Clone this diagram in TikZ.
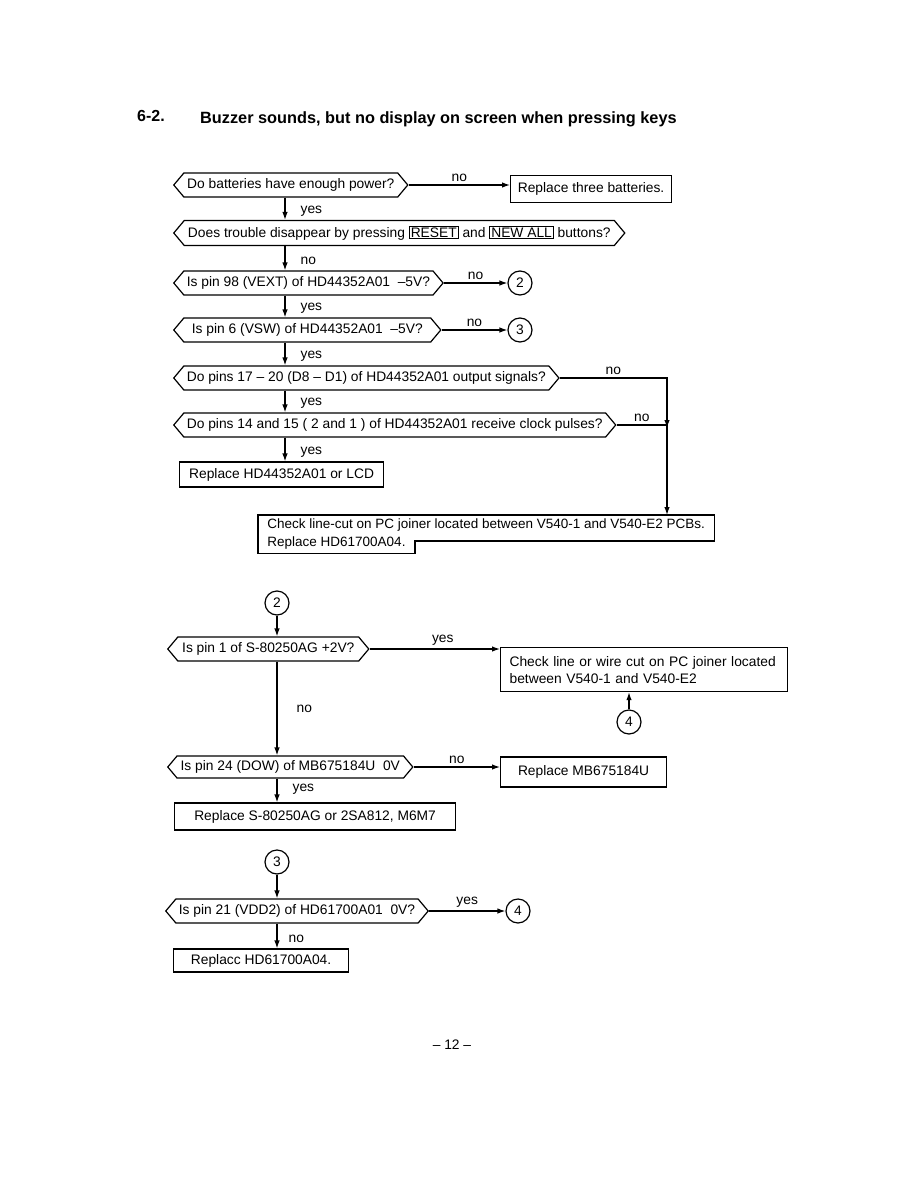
\documentclass[tikz,border=0pt]{standalone}
\usepackage{fontspec}
\setmainfont{Liberation Sans}
\usetikzlibrary{shapes.symbols, arrows.meta, positioning, calc}
\newcommand{\chartfont}{\fontsize{13.8}{17}\selectfont}
\newcommand{\keycap}[1]{{\setlength{\fboxsep}{1pt}\setlength{\fboxrule}{0.9pt}\fbox{#1}}}
\tikzset{
  decision/.style={signal, signal to=west and east, signal pointer angle=100,
                   draw=black, line width=1.2pt, minimum height=24pt,
                   inner xsep=3pt, inner ysep=0pt, anchor=west, font=\chartfont},
  box/.style={rectangle, draw=black, line width=1.2pt, minimum height=26pt,
              inner xsep=6pt, anchor=west, font=\chartfont},
  refcirc/.style={circle, draw=black, line width=1.2pt, minimum size=24pt,
                  inner sep=0pt, font=\chartfont},
  lbl/.style={font=\chartfont, inner sep=1pt},
  arrow/.style={-{Latex[length=8pt, width=5.5pt]}, line width=1.2pt, draw=black},
  plain/.style={line width=1.2pt, draw=black},
}

\begin{document}
\begin{tikzpicture}[x=1pt, y=-1pt]
  \useasboundingbox (0,0) rectangle (918,1188);

  % Heading
  \node[anchor=west, inner sep=0pt, font=\fontsize{16}{19}\selectfont\bfseries] (secno) at (137,116) {6-2.};
  \node[anchor=west, inner sep=0pt, font=\fontsize{16.3}{19}\selectfont\bfseries] (title) at (200,119)
    {Buzzer sounds, but no display on screen when pressing keys};

  % First chart
  \coordinate (spineA) at (285,0);
  \coordinate (rail) at (667,378);
  \node[decision, minimum width=234pt] (batt) at (173,185) {Do batteries have enough power?};
  \node[box, minimum width=161pt, minimum height=27pt] (newbatt) at (510,189) {Replace three batteries.};
  \node[decision, minimum width=451pt, minimum height=25pt] (trouble) at (173,233)
    {Does trouble disappear by pressing \keycap{RESET} and \keycap{NEW ALL} buttons?};
  \node[decision, minimum width=267pt] (vext) at (173,283) {Is pin 98 (VEXT) of HD44352A01\ \ --5V?};
  \node[refcirc] (goA) at (520,283) {2};
  \node[decision, minimum width=267pt] (vsw) at (173,330) {Is pin 6 (VSW) of HD44352A01\ \ --5V?};
  \node[refcirc] (goB) at (520,330) {3};
  \node[decision, minimum width=382pt] (signals) at (173,378)
    {Do pins 17 -- 20 (D8 -- D1) of HD44352A01 output signals?};
  \node[decision, minimum width=435pt] (clock) at (173,425)
    {Do pins 14 and 15 ( 2 and 1 ) of HD44352A01 receive clock pulses?};
  \node[box, minimum width=204pt, minimum height=25pt] (replcd) at (179,474.5) {Replace HD44352A01 or LCD};
  \node[anchor=north west, inner xsep=3pt, inner ysep=2pt, minimum width=456pt, minimum height=38pt,
        align=left, font=\fontsize{13.5}{18}\selectfont] (joiner) at (258,515)
    {Check line-cut on PC joiner located between V540-1 and V540-E2 PCBs.\\
     Replace HD61700A04.};
  \draw[plain] (joiner.north west) -- (joiner.north east) -- ($(joiner.north east)+(0,26)$)
    -| ($(joiner.south west)+(157,0)$) -- (joiner.south west) -- cycle;

  \draw[arrow] (batt.east) -- node[lbl, above=2pt] {no} (batt.east -| newbatt.west);
  \draw[arrow] (batt.south -| spineA) -- node[lbl, right=14pt, pos=.6] {yes} (trouble.north -| spineA);
  \draw[arrow] (trouble.south -| spineA) -- node[lbl, right=14pt, pos=.6] {no} (vext.north -| spineA);
  \draw[arrow] (vext.east) -- node[lbl, above=2pt] {no} (goA.west);
  \draw[arrow] (vext.south -| spineA) -- node[lbl, right=14pt, pos=.6] {yes} (vsw.north -| spineA);
  \draw[arrow] (vsw.east) -- node[lbl, above=2pt] {no} (goB.west);
  \draw[arrow] (vsw.south -| spineA) -- node[lbl, right=14pt, pos=.6] {yes} (signals.north -| spineA);
  \draw[arrow] (signals.east) -- node[lbl, above=2pt] {no} (rail) -- (rail |- joiner.north);
  \draw[arrow] (signals.south -| spineA) -- node[lbl, right=14pt, pos=.6] {yes} (clock.north -| spineA);
  \draw[plain] (clock.east) -- node[lbl, above=2pt] {no} (clock.east -| rail);
  \draw[arrow] ($(clock.east -| rail)+(0,-10)$) -- ($(clock.east -| rail)+(0,3)$);
  \draw[arrow] (clock.south -| spineA) -- node[lbl, right=14pt, pos=.6] {yes} (replcd.north -| spineA);

  % Second chart
  \coordinate (spineB) at (277,0);
  \node[refcirc] (fromA) at (277,603) {2};
  \node[decision, minimum width=201pt] (plus2v) at (167,649) {Is pin 1 of S-80250AG +2V?};
  \node[anchor=north west, draw=black, line width=1.2pt, inner xsep=9pt, inner ysep=3pt,
        minimum width=287pt, minimum height=44pt, text width=269pt, align=left, font=\chartfont]
    (wirecut) at (500,647)
    {Check line or wire cut on PC joiner located\\ between V540-1 and V540-E2};
  \node[refcirc] (fromD) at (629,722) {4};
  \node[decision, minimum width=245pt, minimum height=22pt] (dow) at (167,767) {Is pin 24 (DOW) of MB675184U\ \ 0V};
  \node[box, minimum width=166pt, minimum height=30pt] (repmb) at (500,772) {Replace MB675184U};
  \node[box, minimum width=281pt, minimum height=27pt] (repsa) at (174,816.5) {Replace S-80250AG or 2SA812, M6M7};

  \draw[arrow] (fromA.south) -- (fromA.south |- plus2v.north);
  \draw[arrow] (plus2v.east) -- node[lbl, above=2pt, xshift=8pt] {yes} (plus2v.east -| wirecut.west);
  \draw[arrow] (fromD.north) -- (fromD.north |- wirecut.south);
  \draw[arrow] (plus2v.south -| spineB) -- node[lbl, right=18pt] {no} (dow.north -| spineB);
  \draw[arrow] (dow.east) -- node[lbl, above=2pt] {no} (dow.east -| repmb.west);
  \draw[arrow] (dow.south -| spineB) -- node[lbl, right=14pt, pos=.45] {yes} (repsa.north -| spineB);

  % Third chart
  \node[refcirc] (fromB) at (277,862) {3};
  \node[decision, minimum width=259pt] (vdd) at (165,911) {Is pin 21 (VDD2) of HD61700A01\ \ 0V?};
  \node[refcirc] (toD) at (518,911) {4};
  \node[box, minimum width=175pt, minimum height=23pt] (rephd) at (173,960.5) {Replacc HD61700A04.};

  \draw[arrow] (fromB.south) -- (fromB.south |- vdd.north);
  \draw[arrow] (vdd.east) -- node[lbl, above=2pt] {yes} (toD.west);
  \draw[arrow] (vdd.south -| spineB) -- node[lbl, right=10pt, pos=.6] {no} (rephd.north -| spineB);

  % Page number
  \node[font=\chartfont] (pageno) at (452,1045) {-- 12 --};
\end{tikzpicture}
\end{document}
